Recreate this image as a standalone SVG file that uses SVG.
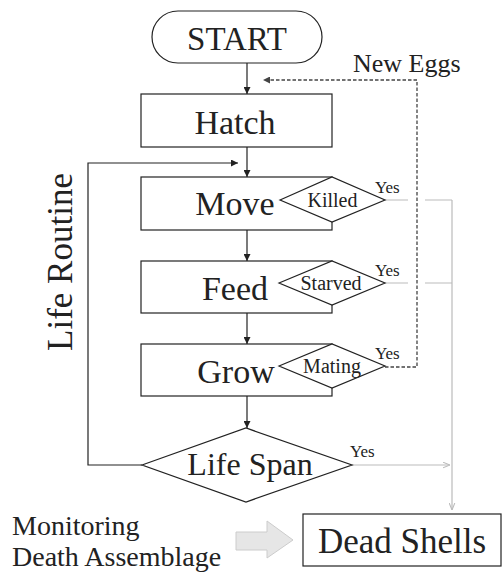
<svg xmlns="http://www.w3.org/2000/svg" width="502" height="572" viewBox="0 0 502 572" font-family="'Liberation Serif', 'DejaVu Serif', serif">
<style>
text{font-family:'Liberation Serif','DejaVu Serif',serif;fill:#222}
.box{fill:#fff;stroke:#222;stroke-width:1.2}
.ln{fill:none;stroke:#222;stroke-width:1.2}
.gr{fill:none;stroke:#bbb;stroke-width:1.2}
.ds{fill:none;stroke:#444;stroke-width:1.3;stroke-dasharray:3.5,2}
.big{font-size:34px}
.sm{font-size:20px}
.yes{font-size:17px}
</style>
<defs>
<marker id="ab" viewBox="0 0 10 10" refX="10" refY="5" markerWidth="7" markerHeight="7" markerUnits="userSpaceOnUse" orient="auto"><path d="M0,0 L10,5 L0,10 z" fill="#222"/></marker>
<marker id="ag" viewBox="0 0 10 10" refX="10" refY="5" markerWidth="7" markerHeight="7" markerUnits="userSpaceOnUse" orient="auto"><path d="M0,1 L10,5 L0,9" fill="none" stroke="#bbb" stroke-width="1.5"/></marker>
<marker id="ad" viewBox="0 0 10 10" refX="10" refY="5" markerWidth="7" markerHeight="7" markerUnits="userSpaceOnUse" orient="auto"><path d="M0,0 L10,5 L0,10 z" fill="#444"/></marker>
</defs>
<g id="connectors">
<path class="ln" d="M247,63 V94" marker-end="url(#ab)"/>
<path class="ln" d="M247,147 V177" marker-end="url(#ab)"/>
<path class="ln" d="M247,230 V261" marker-end="url(#ab)"/>
<path class="ln" d="M247,313 V344" marker-end="url(#ab)"/>
<path class="ln" d="M247,396 V428" marker-end="url(#ab)"/>
<path class="ln" d="M142,465 H88 V163 H238" marker-end="url(#ab)"/>
<path class="ds" d="M385,367 H417 V80 H263" marker-end="url(#ad)"/>
<path class="gr" d="M385,200 H408 M425,200 H452 M385,283 H408 M425,283 H452"/>
<path class="gr" d="M452,200 V510" marker-end="url(#ag)"/>
<path class="gr" d="M352,465 H450" marker-end="url(#ag)"/>
<polygon points="236,532 267,532 267,521 293,540 267,558 267,550 236,550" fill="#e6e6e6" stroke="#ccc" stroke-width="1"/>
</g>
<g id="start">
<rect class="box" x="152" y="11" width="170" height="52" rx="26"/>
<text x="237" y="50" font-size="33" text-anchor="middle">START</text>
</g>
<g id="hatch">
<rect class="box" x="141" y="94" width="191" height="53"/>
<text class="big" x="235" y="134" text-anchor="middle">Hatch</text>
</g>
<g id="move">
<rect class="box" x="141" y="177" width="191" height="53"/>
<text class="big" x="235" y="215" text-anchor="middle">Move</text>
</g>
<g id="killed">
<polygon class="box" points="280,200 332,177 385,200 332,222"/>
<text class="sm" x="332.5" y="207" text-anchor="middle">Killed</text>
<text class="yes" x="375" y="193">Yes</text>
</g>
<g id="feed">
<rect class="box" x="141" y="261" width="191" height="52"/>
<text class="big" x="235" y="300" text-anchor="middle">Feed</text>
</g>
<g id="starved">
<polygon class="box" points="279,283 332,261 385,283 332,305"/>
<text class="sm" x="331" y="290" text-anchor="middle">Starved</text>
<text class="yes" x="375" y="276">Yes</text>
</g>
<g id="grow">
<rect class="box" x="141" y="344" width="191" height="52"/>
<text class="big" x="236" y="383" text-anchor="middle">Grow</text>
</g>
<g id="mating">
<polygon class="box" points="279,366 332,344 385,366 332,388"/>
<text class="sm" x="332" y="373" text-anchor="middle">Mating</text>
<text class="yes" x="375" y="359">Yes</text>
</g>
<g id="lifespan">
<polygon class="box" points="142,465 246,428 352,465 246,502"/>
<text x="250" y="475" font-size="32" text-anchor="middle">Life Span</text>
<text class="yes" x="350" y="457">Yes</text>
</g>
<g id="deadshells">
<rect class="box" x="303" y="514" width="198" height="52"/>
<text x="402" y="553" font-size="35" text-anchor="middle">Dead Shells</text>
</g>
<g id="labels">
<text x="353" y="72" font-size="26">New Eggs</text>
<text x="72" y="262" font-size="35" text-anchor="middle" transform="rotate(-90 72 262)">Life Routine</text>
<text x="12" y="535" font-size="28">Monitoring</text>
<text x="12" y="566" font-size="28">Death Assemblage</text>
</g>
</svg>
